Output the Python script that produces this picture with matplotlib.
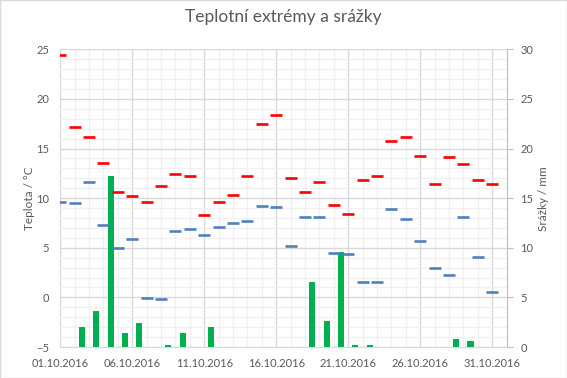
import datetime as dt
import matplotlib
matplotlib.use('Agg')
import matplotlib.pyplot as plt
import matplotlib.dates as mdates
from matplotlib.ticker import MultipleLocator
from matplotlib.patches import Rectangle

plt.rcParams['font.family'] = ['Lato', 'DejaVu Sans']

# data
days = [dt.datetime(2016, 10, d) for d in range(1, 32)]
t_max = [24.4, 17.2, 16.2, 13.5, 10.6, 10.2, 9.6, 11.2, 12.4, 12.2, 8.3,
         9.6, 10.3, 12.2, 17.5, 18.4, 12.0, 10.6, 11.6, 9.3, 8.4, 11.8,
         12.2, 15.8, 16.2, 14.2, 11.4, 14.1, 13.4, 11.8, 11.4]
t_min = [9.6, 9.5, 11.6, 7.3, 5.0, 5.9, -0.1, -0.2, 6.7, 6.9, 6.3, 7.1,
         7.5, 7.7, 9.2, 9.1, 5.2, 8.1, 8.1, 4.5, 4.4, 1.6, 1.5, 8.9, 7.9,
         5.7, 3.0, 2.3, 8.1, 4.1, 0.5]
srazky = [0, 2.0, 3.6, 17.2, 1.4, 2.4, 0, 0.2, 1.4, 0, 2.0, 0, 0, 0, 0,
          0, 0, 6.5, 2.6, 9.6, 0.2, 0.2, 0, 0, 0, 0, 0, 0.8, 0.6, 0, 0]

txt = '#595959'
fig = plt.figure(figsize=(5.67, 3.78), dpi=100)
ax = fig.add_axes([0.1063, 0.082, 0.787, 0.7876])   # srazky (right scale) + grid
axt = ax.twinx()                                     # teploty (left scale)

# bars shifted half a day like in the excel chart
bar_x = [d + dt.timedelta(hours=12) for d in days]
ax.bar(bar_x, srazky, width=0.42, color='#00b050', zorder=3)
ax.set_ylim(0, 30)
ax.yaxis.set_major_locator(MultipleLocator(5))
ax.yaxis.set_minor_locator(MultipleLocator(1))
ax.yaxis.tick_right()
ax.yaxis.set_label_position('right')
ax.set_ylabel('Srážky / mm', color=txt, fontsize=8.5, labelpad=3)

ax.set_xlim(dt.datetime(2016, 10, 1), dt.datetime(2016, 11, 1))
ax.set_xticks(days[::5])
ax.xaxis.set_minor_locator(mdates.DayLocator())
ax.xaxis.set_major_formatter(mdates.DateFormatter('%d.%m.%Y'))

ax.grid(which='major', color='#d9d9d9', lw=1)
ax.grid(which='minor', color='#f0f0f0', lw=1)
ax.set_axisbelow(True)

axt.plot(days, t_max, ls='none', marker='_', ms=8.6, mew=1.9, color='#ff0000')
axt.plot(days, t_min, ls='none', marker='_', ms=8.6, mew=1.9, color='#4f81bd')
axt.set_ylim(-5, 25)
axt.yaxis.set_major_locator(MultipleLocator(5))
axt.yaxis.tick_left()
axt.yaxis.set_label_position('left')
axt.set_ylabel('Teplota / °C', color=txt, fontsize=8.5, labelpad=1)

for a in (ax, axt):
    for s in a.spines.values():
        s.set_visible(False)
ax.spines['bottom'].set_visible(True)
ax.spines['bottom'].set_color('#d9d9d9')
ax.spines['right'].set_visible(True)
ax.spines['right'].set_color('#bfbfbf')

ax.tick_params(axis='x', which='both', length=0, pad=8, labelsize=8, labelcolor=txt)
ax.tick_params(axis='y', which='major', length=4, color='#bfbfbf', pad=6,
               labelsize=8, labelcolor=txt)
ax.tick_params(axis='y', which='minor', length=0)
axt.tick_params(axis='y', length=0, pad=8, labelsize=8, labelcolor=txt)

fig.suptitle('Teplotní extrémy a srážky', y=0.975, fontsize=12.5, color=txt)
fig.patches.append(Rectangle((0, 0), 1, 1, transform=fig.transFigure,
                             fill=False, edgecolor='#d9d9d9', lw=1))

fig.savefig('out.png', dpi=100)
